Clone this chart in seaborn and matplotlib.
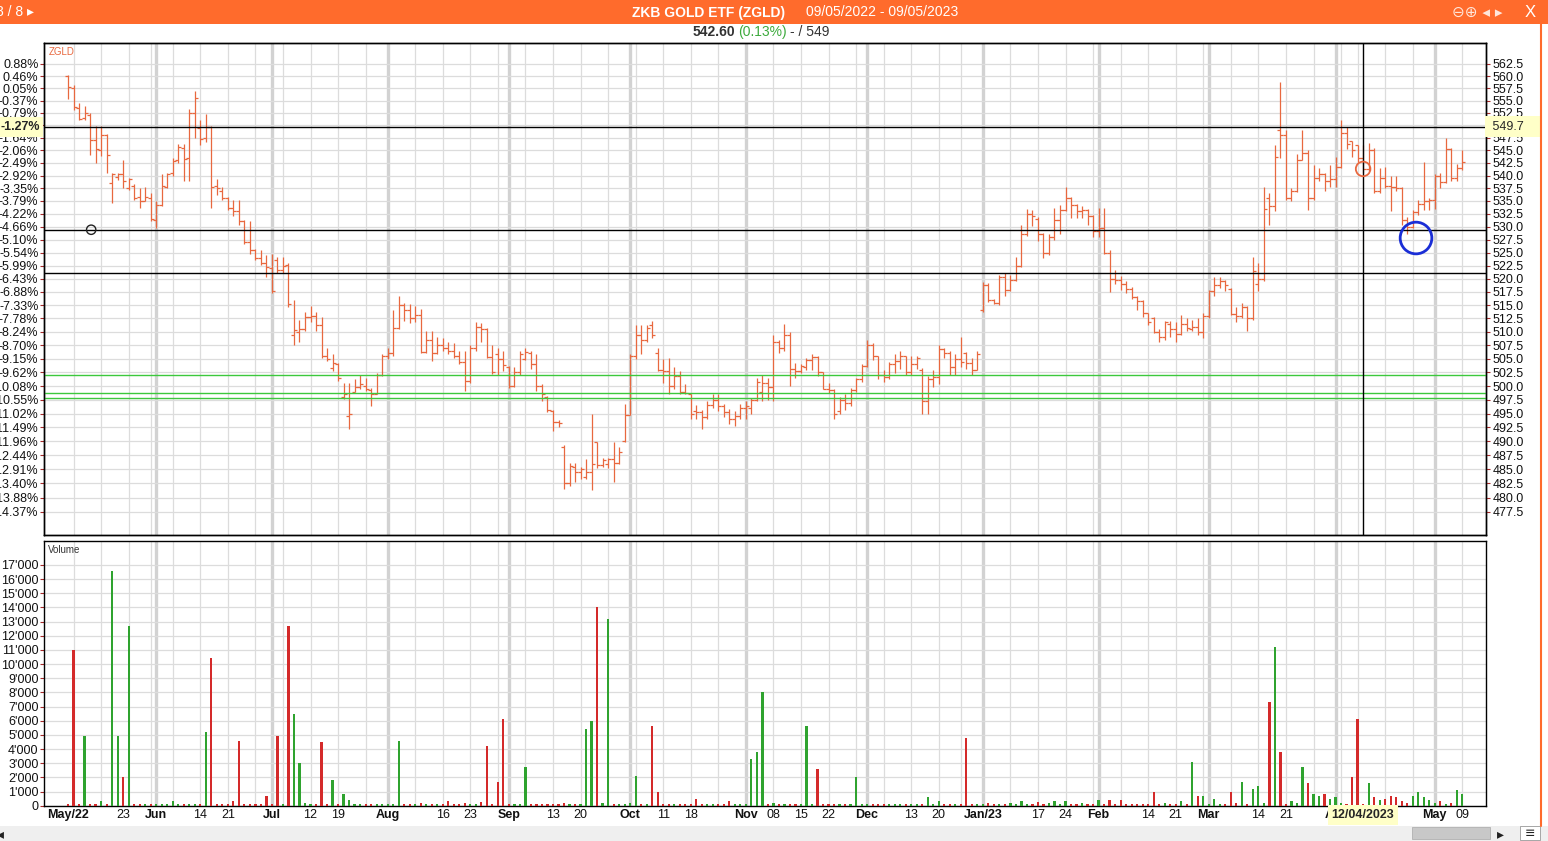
import numpy as np
import pandas as pd
import seaborn as sns
import matplotlib.pyplot as plt
from matplotlib.lines import Line2D
from matplotlib.patches import Rectangle

# Trading calendar (SIX holidays taken out)
holidays = ['2022-05-26', '2022-06-06', '2022-08-01', '2022-12-26',
            '2023-01-02', '2023-04-07', '2023-04-10', '2023-05-01']
dates = pd.bdate_range('2022-05-09', '2023-05-09')
dates = dates[~dates.isin(pd.to_datetime(holidays))]

opens = [
    560.0, 557.5, 553.5, 551.5, 552.0, 547.0, 545.0, 548.0, 538.5, 539.8,
    540.3, 537.5, 538.0, 535.8, 535.0, 535.5, 531.3, 534.3, 537.8, 540.5,
    543.0, 545.5, 543.5, 552.5, 549.5, 547.5, 549.6, 538.0, 537.0, 535.5,
    533.6, 533.0, 531.0, 527.0, 525.4, 524.0, 523.0, 522.0, 523.5, 521.6,
    522.6, 509.5, 510.0, 510.6, 512.8, 513.0, 511.3, 505.5, 503.3, 504.0,
    498.0, 494.5, 499.0, 499.8, 500.0, 499.2, 498.6, 502.0, 505.5, 506.0,
    510.7, 515.0, 514.0, 512.5, 513.2, 506.3, 508.5, 506.0, 507.5, 507.0,
    506.5, 505.5, 504.5, 501.0, 507.0, 511.0, 510.5, 505.3, 505.8, 505.0,
    503.5, 500.0, 502.5, 505.0, 506.0, 504.0, 500.0, 498.0, 495.5, 493.4,
    489.0, 482.5, 485.4, 484.6, 483.6, 484.5, 489.8, 485.8, 486.0, 486.9,
    486.2, 490.0, 494.8, 505.5, 509.5, 508.4, 511.2, 506.0, 503.0, 502.8,
    500.0, 501.8, 499.0, 498.5, 495.5, 495.3, 494.3, 496.5, 497.5, 496.3,
    495.3, 494.0, 494.6, 496.0, 496.0, 497.5, 499.0, 500.5, 499.8, 508.2,
    507.0, 509.5, 503.2, 502.8, 503.4, 504.8, 505.3, 502.5, 499.5, 499.2,
    495.5, 497.5, 496.9, 499.2, 501.2, 503.6, 507.6, 505.5, 502.0, 501.6,
    504.0, 504.6, 505.5, 502.6, 504.0, 503.0, 497.2, 501.3, 501.6, 506.8,
    506.0, 503.5, 505.0, 506.0, 504.3, 503.0, 514.0, 518.8, 516.0, 515.5,
    520.3, 517.8, 519.8, 522.5, 528.6, 532.5, 531.5, 528.5, 525.0, 528.0,
    531.2, 533.3, 535.5, 534.3, 533.0, 533.3, 532.0, 529.2, 529.8, 525.0,
    520.0, 519.8, 519.0, 518.0, 516.6, 515.8, 513.5, 512.5, 510.0, 509.0,
    511.5, 510.5, 509.6, 511.5, 510.5, 511.0, 510.0, 513.0, 517.6, 518.8,
    519.6, 518.0, 513.4, 513.0, 514.6, 512.5, 519.0, 520.0, 535.5, 534.0,
    549.0, 548.0, 535.5, 537.0, 543.0, 544.5, 535.5, 539.6, 540.3, 539.0,
    539.4, 541.6, 548.5, 546.8, 546.0, 543.5, 541.2, 545.0, 537.0, 539.5,
    538.0, 537.8, 537.5, 531.2, 530.0, 532.8, 534.5, 535.0, 535.2, 540.0,
    538.8, 545.3, 539.6, 541.5]

highs = [
    560.3, 558.2, 554.5, 553.8, 552.5, 549.9, 549.9, 548.3, 540.5, 540.5,
    543.0, 539.6, 538.3, 537.5, 537.8, 536.5, 535.0, 540.3, 540.5, 543.5,
    546.2, 546.3, 553.3, 557.0, 551.0, 552.3, 549.9, 539.4, 537.8, 535.8,
    535.2, 535.2, 531.2, 531.1, 525.7, 525.4, 524.5, 524.8, 524.1, 524.1,
    523.0, 516.0, 512.2, 513.7, 514.9, 513.7, 512.8, 507.0, 505.8, 504.2,
    500.6, 500.6, 501.2, 502.1, 501.5, 499.7, 502.4, 505.8, 507.0, 514.0,
    516.7, 515.5, 515.2, 514.9, 514.3, 510.1, 510.1, 509.1, 508.8, 508.2,
    507.9, 506.4, 506.4, 507.6, 511.9, 511.6, 510.8, 507.6, 507.0, 506.4,
    503.6, 503.4, 506.5, 507.0, 506.4, 505.8, 500.3, 498.1, 495.6, 493.8,
    489.3, 486.1, 486.1, 485.5, 486.9, 495.0, 489.9, 487.0, 487.0, 489.8,
    489.0, 496.7, 505.8, 511.3, 511.3, 511.3, 512.0, 507.0, 505.0, 505.2,
    503.4, 502.7, 500.3, 498.6, 496.5, 495.6, 497.3, 498.5, 498.5, 496.7,
    495.8, 495.4, 496.7, 497.3, 497.9, 501.5, 502.1, 501.5, 509.4, 508.5,
    511.5, 510.0, 504.3, 504.0, 505.2, 505.8, 505.5, 502.6, 500.6, 499.5,
    498.0, 498.5, 499.7, 501.5, 504.0, 508.5, 508.0, 505.6, 503.0, 504.5,
    505.8, 506.4, 505.6, 505.5, 505.5, 503.3, 501.8, 503.0, 507.5, 507.0,
    506.4, 505.8, 509.0, 506.3, 505.2, 506.4, 519.3, 519.2, 516.2, 520.8,
    521.0, 520.7, 524.1, 530.4, 533.5, 533.3, 531.8, 528.8, 528.6, 533.6,
    534.3, 537.8, 535.8, 534.5, 534.0, 533.5, 532.3, 533.6, 533.6, 525.5,
    521.6, 520.6, 519.5, 518.5, 516.8, 516.0, 513.6, 512.8, 510.5, 512.0,
    512.0, 511.9, 513.1, 512.5, 512.2, 512.5, 513.5, 517.9, 520.4, 520.4,
    519.8, 518.2, 514.6, 515.5, 514.9, 524.1, 523.0, 537.8, 536.5, 546.0,
    558.8, 549.0, 537.5, 544.3, 549.0, 545.0, 542.0, 541.4, 540.5, 542.0,
    543.6, 551.0, 549.6, 546.9, 546.0, 546.0, 546.5, 545.5, 541.4, 541.6,
    540.0, 540.0, 537.8, 531.8, 533.3, 535.2, 542.7, 535.5, 540.3, 540.5,
    547.5, 545.5, 542.2, 545.0]

lows = [
    555.3, 553.0, 551.0, 551.0, 544.0, 542.5, 543.8, 540.5, 534.6, 539.2,
    537.5, 537.2, 535.2, 533.6, 535.0, 531.0, 529.8, 534.0, 537.5, 540.0,
    542.5, 539.0, 539.0, 547.5, 546.0, 546.6, 533.6, 536.2, 535.2, 533.3,
    532.0, 530.4, 526.7, 524.8, 523.5, 522.6, 520.4, 517.3, 521.0, 521.0,
    514.6, 507.6, 508.2, 510.1, 511.9, 510.1, 505.2, 504.6, 502.7, 501.0,
    497.6, 492.2, 499.0, 499.5, 499.1, 496.4, 498.5, 501.8, 505.0, 505.6,
    510.5, 512.0, 511.7, 511.9, 506.0, 506.0, 504.6, 505.8, 506.4, 505.8,
    505.2, 504.0, 499.1, 500.5, 506.5, 508.2, 505.2, 502.2, 502.0, 502.7,
    499.7, 499.8, 502.0, 504.8, 503.2, 499.1, 497.3, 495.2, 491.9, 492.5,
    481.5, 482.0, 482.7, 483.3, 483.3, 481.3, 485.2, 485.5, 485.3, 482.7,
    486.0, 489.8, 494.8, 505.0, 505.8, 508.2, 508.8, 502.7, 500.6, 498.5,
    499.5, 498.5, 498.5, 494.0, 494.0, 492.2, 494.0, 496.0, 495.5, 494.3,
    493.1, 492.8, 494.0, 494.0, 495.0, 497.3, 497.3, 497.5, 497.3, 506.0,
    506.4, 500.0, 501.5, 502.4, 503.0, 503.0, 501.8, 499.4, 498.7, 494.0,
    495.0, 495.7, 496.4, 499.0, 500.8, 503.4, 504.8, 501.2, 500.8, 501.2,
    502.4, 503.1, 502.0, 502.0, 503.2, 495.0, 495.0, 499.9, 500.3, 505.2,
    502.0, 502.0, 503.4, 503.2, 502.0, 503.0, 513.8, 515.6, 515.2, 515.0,
    516.8, 517.6, 519.5, 522.3, 528.2, 530.2, 527.2, 524.0, 524.6, 527.5,
    528.6, 533.0, 531.7, 531.7, 531.7, 530.4, 528.0, 527.9, 524.8, 517.5,
    519.0, 517.9, 517.3, 516.1, 514.0, 512.8, 511.3, 509.8, 508.2, 508.5,
    509.0, 508.2, 509.4, 510.1, 510.1, 509.5, 508.8, 512.5, 516.7, 518.3,
    517.6, 513.1, 511.9, 512.5, 510.1, 512.2, 517.6, 519.5, 530.4, 533.0,
    543.5, 535.2, 535.0, 536.8, 543.0, 533.3, 535.2, 539.0, 537.0, 537.8,
    537.8, 541.5, 545.2, 543.6, 542.7, 540.5, 540.9, 536.5, 536.5, 537.5,
    533.0, 537.0, 530.4, 528.5, 529.8, 532.3, 533.3, 533.3, 533.5, 537.5,
    538.5, 539.0, 539.0, 541.0]

closes = [
    557.8, 553.7, 551.3, 552.5, 547.0, 545.3, 548.0, 544.0, 540.3, 540.3,
    539.0, 539.4, 535.5, 535.0, 535.8, 531.5, 534.3, 538.0, 540.3, 542.8,
    545.6, 543.3, 552.5, 555.6, 547.3, 549.6, 537.8, 537.5, 535.5, 533.6,
    533.0, 531.1, 527.0, 525.4, 524.0, 523.0, 522.2, 517.6, 521.6, 522.5,
    515.2, 510.4, 510.6, 512.8, 513.0, 511.3, 505.5, 505.0, 504.2, 501.5,
    498.6, 495.0, 499.8, 500.3, 499.4, 498.6, 502.0, 505.5, 506.0, 510.7,
    515.0, 514.0, 512.5, 513.2, 506.3, 508.5, 506.0, 507.5, 507.0, 506.5,
    505.5, 504.5, 501.0, 507.0, 511.0, 510.5, 505.3, 502.5, 505.0, 503.8,
    500.0, 502.5, 505.8, 506.3, 504.0, 500.0, 498.5, 495.6, 493.4, 493.2,
    482.5, 485.6, 484.6, 485.0, 484.5, 486.0, 485.8, 486.6, 486.9, 486.2,
    488.1, 494.8, 505.5, 509.5, 508.4, 510.7, 509.5, 503.0, 502.8, 500.0,
    501.8, 499.0, 498.8, 495.0, 495.3, 494.3, 496.5, 497.5, 496.3, 495.3,
    494.0, 494.6, 496.0, 496.3, 497.5, 500.8, 500.5, 499.8, 508.2, 507.0,
    509.5, 503.2, 502.8, 503.6, 504.8, 505.3, 502.5, 499.5, 499.2, 494.9,
    497.5, 496.9, 499.2, 501.2, 503.6, 507.6, 505.5, 502.0, 501.6, 504.0,
    504.6, 505.5, 502.6, 504.0, 505.2, 497.2, 501.3, 501.6, 506.8, 506.0,
    503.5, 505.0, 504.4, 504.3, 503.0, 505.8, 518.8, 516.0, 515.5, 520.3,
    517.8, 519.8, 522.5, 528.6, 532.5, 532.0, 528.5, 525.0, 528.0, 531.2,
    533.3, 535.5, 534.3, 533.0, 533.3, 532.0, 529.2, 529.8, 525.0, 520.0,
    519.8, 519.0, 518.0, 516.6, 515.8, 513.5, 511.8, 510.0, 509.0, 511.8,
    510.5, 509.6, 511.5, 510.8, 511.0, 510.0, 513.0, 517.6, 518.8, 519.6,
    518.9, 513.4, 513.0, 514.6, 512.5, 521.5, 520.0, 533.5, 534.0, 543.6,
    548.0, 535.5, 537.0, 543.0, 544.5, 535.5, 539.6, 540.3, 539.0, 539.4,
    541.6, 548.5, 546.3, 545.0, 543.5, 541.2, 545.0, 537.0, 539.5, 538.0,
    537.8, 537.5, 531.2, 530.0, 532.8, 534.5, 535.0, 535.2, 540.0, 538.8,
    545.3, 539.6, 541.5, 542.6]

volumes = [
    100, 11000, 150, 4900, 120, 100, 300, 150, 16600, 4950,
    2050, 12700, 100, 120, 100, 150, 120, 100, 130, 300,
    120, 100, 150, 120, 100, 5200, 10400, 150, 120, 100,
    300, 4600, 120, 100, 150, 120, 700, 150, 4900, 130,
    12700, 6500, 3000, 200, 120, 150, 4500, 150, 1800, 150,
    800, 400, 150, 120, 100, 150, 120, 130, 100, 150,
    4600, 120, 150, 100, 200, 120, 150, 130, 100, 300,
    150, 120, 200, 150, 120, 250, 4200, 150, 1700, 6100,
    120, 150, 100, 2700, 120, 150, 130, 100, 120, 150,
    200, 150, 130, 150, 5400, 6000, 14000, 200, 13200, 150,
    120, 150, 200, 2100, 150, 120, 5600, 1000, 150, 120,
    150, 120, 100, 150, 500, 130, 150, 120, 100, 150,
    300, 150, 120, 130, 3300, 3800, 8000, 150, 200, 150,
    120, 150, 100, 130, 5600, 150, 2600, 120, 100, 150,
    120, 150, 130, 2000, 150, 100, 120, 150, 130, 100,
    150, 120, 100, 150, 130, 120, 600, 150, 300, 120,
    150, 100, 130, 4800, 150, 120, 150, 200, 130, 150,
    100, 200, 150, 300, 150, 120, 250, 150, 200, 300,
    150, 300, 120, 150, 200, 150, 100, 400, 150, 400,
    150, 400, 150, 120, 150, 100, 150, 1000, 150, 200,
    120, 150, 300, 150, 3100, 700, 700, 150, 500, 120,
    150, 1000, 200, 1700, 150, 1200, 1400, 200, 7300, 11200,
    3800, 150, 300, 200, 2700, 1600, 800, 700, 800, 500,
    600, 200, 150, 2000, 6100, 150, 1600, 600, 400, 500,
    700, 600, 300, 200, 700, 1000, 600, 400, 200, 300,
    150, 200, 1100, 800]

# axis labels
price_ticks = np.arange(562.5, 477.4, -2.5)
pct_labels = ['0.88%', '0.46%', '0.05%', '-0.37%', '-0.79%', '-1.21%', '-1.64%',
              '-2.06%', '-2.49%', '-2.92%', '-3.35%', '-3.79%', '-4.22%', '-4.66%',
              '-5.10%', '-5.54%', '-5.99%', '-6.43%', '-6.88%', '-7.33%', '-7.78%',
              '-8.24%', '-8.70%', '-9.15%', '-9.62%', '-10.08%', '-10.55%', '-11.02%',
              '-11.49%', '-11.96%', '-12.44%', '-12.91%', '-13.40%', '-13.88%', '-14.37%']
tick_dates = ['2022-05-09', '2022-05-23', '2022-06-01', '2022-06-14', '2022-06-21',
              '2022-07-01', '2022-07-12', '2022-07-19', '2022-08-02', '2022-08-16',
              '2022-08-23', '2022-09-01', '2022-09-13', '2022-09-20', '2022-10-03',
              '2022-10-11', '2022-10-18', '2022-11-01', '2022-11-08', '2022-11-15',
              '2022-11-22', '2022-12-01', '2022-12-13', '2022-12-20', '2023-01-03',
              '2023-01-17', '2023-01-24', '2023-02-01', '2023-02-14', '2023-02-21',
              '2023-03-01', '2023-03-14', '2023-03-21', '2023-04-03', '2023-05-02',
              '2023-05-09']
tick_text = ['May/22', '23', 'Jun', '14', '21', 'Jul', '12', '19', 'Aug', '16', '23',
             'Sep', '13', '20', 'Oct', '11', '18', 'Nov', '08', '15', '22', 'Dec', '13',
             '20', 'Jan/23', '17', '24', 'Feb', '14', '21', 'Mar', '14', '21', 'Apr',
             'May', '09']

# user drawn lines / markers
cross_date, cross_price = '2023-04-12', 549.7
black_lines = [529.4, 521.0]
green_lines = [502.0, 498.8, 497.8]

df = pd.DataFrame({'date': dates, 'open': opens, 'high': highs, 'low': lows,
                   'close': closes, 'volume': volumes})
df['x'] = np.arange(len(df))
df['dir'] = np.where(df['close'] >= df['open'], 'up', 'down')

month_x = df.groupby(df['date'].dt.to_period('M'))['x'].min().values[1:]
week_x = [v for v in df.loc[df['date'].dt.dayofweek == 1, 'x'] if v not in month_x]
tick_x = df.set_index('date').loc[pd.to_datetime(tick_dates), 'x'].values
cross_x = df.set_index('date').loc[pd.Timestamp(cross_date), 'x']

sns.set_theme(style='white')
plt.rcParams['font.family'] = ['Liberation Sans', 'DejaVu Sans']

W, H = 1548, 841
fig = plt.figure(figsize=(W / 100, H / 100), dpi=100)


def box(l, t, r, b):
    return [l / W, 1 - b / H, (r - l) / W, (b - t) / H]


ax = fig.add_axes(box(44, 43, 1486, 535))
axv = fig.add_axes(box(44, 541, 1486, 806))
xlim = (-4.36, 257.3)
tick_red = '#A52A2A'
bar_col = '#E8683F'

for a in (ax, axv):
    for xi in week_x:
        a.axvline(xi, color='#DCDCDC', lw=0.9, zorder=0)
    for xi in month_x:
        a.axvline(xi, color='#D2D2D2', lw=2.4, zorder=0)

# price panel (OHLC bars)
ax.vlines(df['x'], df['low'], df['high'], color=bar_col, lw=0.9, zorder=3)
ax.hlines(df['open'], df['x'] - 0.55, df['x'], color=bar_col, lw=0.9, zorder=3)
ax.hlines(df['close'], df['x'], df['x'] + 0.55, color=bar_col, lw=0.9, zorder=3)
ax.set_yscale('log')
ax.set_ylim(473.5, 566.8)
ax.set_xlim(*xlim)
ax.set_yticks(price_ticks, labels=pct_labels)
ax.minorticks_off()
ax.grid(True, axis='y', color='#DCDCDC', lw=0.9)
ax.set_axisbelow(True)
ax.tick_params(axis='y', left=True, length=3, width=0.8, color=tick_red,
               labelsize=9, pad=1, labelcolor='#111111')
ax.tick_params(axis='x', bottom=False, labelbottom=False)

axr = ax.twinx()
axr.set_yscale('log')
axr.set_ylim(ax.get_ylim())
axr.set_yticks(price_ticks, labels=[f'{v:.1f}' for v in price_ticks])
axr.minorticks_off()
axr.grid(False)
axr.tick_params(axis='y', right=True, length=3, width=0.8, color=tick_red,
                labelsize=9, pad=2, labelcolor='#111111')

for y in black_lines + [cross_price]:
    ax.axhline(y, color='black', lw=1, zorder=4)
for y in green_lines:
    ax.axhline(y, color='#3CC83C', lw=1, zorder=4)
ax.axvline(cross_x, color='black', lw=1, zorder=4)

ax.scatter([4.2], [529.4], s=45, facecolors='none', edgecolors='#222222', lw=1, zorder=5)
ax.scatter([cross_x], [541.3], s=110, facecolors='none', edgecolors=bar_col, lw=1.3, zorder=5)
ax.scatter([244.6], [527.8], s=520, facecolors='none', edgecolors='#1A2ED6', lw=2, zorder=5)

ax.text(0.003, 0.992, 'ZGLD', transform=ax.transAxes, fontsize=7, color=bar_col, va='top')
hl = dict(boxstyle='square,pad=0.3', fc='#FFFFC8', ec='none')
ax.text(-0.003, cross_price, '-1.27%', transform=ax.get_yaxis_transform(), ha='right',
        va='center', fontsize=9, fontweight='bold', bbox=hl, zorder=10, clip_on=False)
axr.text(1.002, cross_price, ' 549.7    ', transform=axr.get_yaxis_transform(), ha='left',
         va='center', fontsize=9, bbox=dict(boxstyle='square,pad=0.35', fc='#FFFFC8', ec='none'),
         zorder=10, clip_on=False)

# volume panel
sns.barplot(data=df, x='x', y='volume', hue='dir', palette={'up': '#2FA32F', 'down': '#D42A2A'},
            dodge=False, native_scale=True, width=0.4, errorbar=None, legend=False,
            saturation=1, linewidth=0, ax=axv, zorder=3)
axv.set_xlim(*xlim)
axv.set_ylim(-20, 18690)
vol_ticks = np.arange(0, 17001, 1000)
axv.set_yticks(vol_ticks, labels=[f'{v:,}'.replace(',', "'") for v in vol_ticks])
axv.grid(True, axis='y', color='#DCDCDC', lw=0.9)
axv.set_axisbelow(True)
axv.set_xlabel('')
axv.set_ylabel('')
axv.tick_params(axis='y', left=True, length=3, width=0.8, color=tick_red,
                labelsize=9, pad=1, labelcolor='#111111')
axv.set_xticks(tick_x, labels=tick_text)
axv.tick_params(axis='x', bottom=False, length=0, pad=2, labelsize=9, labelcolor='#111111')
for lbl, t in zip(axv.get_xticklabels(), tick_text):
    if not t.isdigit():
        lbl.set_fontweight('bold')
axv.text(0.003, 0.985, 'Volume', transform=axv.transAxes, fontsize=7, color='#333333', va='top')
axv.text(cross_x, -0.012, '12/04/2023', transform=axv.get_xaxis_transform(), ha='center',
         va='top', fontsize=9, fontweight='bold', bbox=hl, zorder=10, clip_on=False)

for a in (ax, axr, axv):
    for s in a.spines.values():
        s.set_color('black')
        s.set_linewidth(1)

# window chrome
orange = '#FF6B2C'
fig.patches.append(Rectangle((0, 1 - 24 / H), 1, 24 / H, transform=fig.transFigure,
                             fc=orange, ec='none'))
ty = 1 - 12.5 / H
fig.text(785 / W, ty, 'ZKB GOLD ETF (ZGLD)', ha='right', va='center', color='white',
         fontsize=10, fontweight='bold')
fig.text(806 / W, ty, '09/05/2022 - 09/05/2023', ha='left', va='center', color='white', fontsize=10)
fig.text(-4 / W, ty, '8 / 8 \u25b8', ha='left', va='center', color='white', fontsize=10)
fig.text(1452 / W, ty, '\u2296\u2295 \u25c2 \u25b8', ha='left', va='center',
         color='#FFE6DA', fontsize=11, family='DejaVu Sans')
fig.text(1530 / W, ty, 'X', ha='center', va='center', color='white', fontsize=12)

sy = 1 - 32 / H
fig.text(735 / W, sy, '542.60', ha='right', va='center', color='#333333', fontsize=10,
         fontweight='bold')
fig.text(738 / W, sy, '(0.13%)', ha='left', va='center', color='#3DAA3D', fontsize=10)
fig.text(790 / W, sy, '- / 549', ha='left', va='center', color='#333333', fontsize=10)

fig.add_artist(Line2D([1541 / W, 1541 / W], [1 - 826 / H, 1 - 24 / H], color=orange, lw=1.5))
fig.patches.append(Rectangle((0, 0), 1, 15 / H, transform=fig.transFigure, fc='#EFEFEF', ec='none'))
fig.patches.append(Rectangle((1412 / W, 2 / H), 78 / W, 12 / H, transform=fig.transFigure,
                             fc='#C8C8C8', ec='#B0B0B0', lw=0.6))
fig.patches.append(Rectangle((1520 / W, 1 / H), 20 / W, 14 / H, transform=fig.transFigure,
                             fc='white', ec='#999999', lw=0.6))
fig.text(1500 / W, 7 / H, '\u25b8', ha='center', va='center', fontsize=10, color='#222222',
         family='DejaVu Sans')
fig.text(1530 / W, 7 / H, '\u2261', ha='center', va='center', fontsize=9, color='#222222',
         family='DejaVu Sans')
fig.text(-3 / W, 7 / H, '\u25c2', ha='left', va='center', fontsize=10, color='#222222',
         family='DejaVu Sans')

fig.savefig('out.png', dpi=100)
